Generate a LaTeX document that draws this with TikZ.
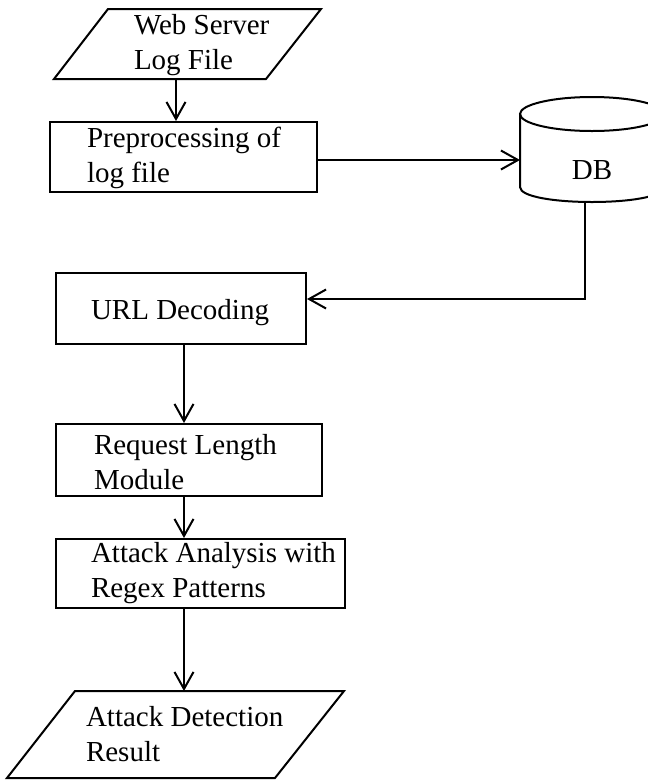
\documentclass[tikz,border=0pt]{standalone}
\usepackage{fontspec}
\setmainfont{Liberation Serif}
\usetikzlibrary{arrows.meta}

\begin{document}
\begin{tikzpicture}[x=1pt, y=-1pt, line width=2pt,
  box/.style={draw, rectangle, inner sep=0pt},
  txt/.style={font=\fontsize{29}{35}\selectfont, align=left, anchor=west, inner sep=0pt},
  arr/.style={-{Straight Barb[length=17pt,width=19pt]}}]

\useasboundingbox (0,0) rectangle (648,780);
\clip (0,0) rectangle (648,780);

\draw (108,9) -- (321,9) -- (266,79) -- (54,79) -- cycle;
\node[txt] (weblog) at (133,45) {Web Server\\Log File};

\node[box, minimum width=267, minimum height=70] (prep) at (183.5,157) {};
\node[txt] (preptext) at (86,158) {Preprocessing of\\log file};

\draw (592,114) ellipse [x radius=72, y radius=17];
\draw (520,114) -- (520,187) .. controls (520,207) and (664,207) .. (664,187) -- (664,114);
\node[font=\fontsize{29}{35}\selectfont, inner sep=0pt] (db) at (592,170) {DB};

\node[box, minimum width=250, minimum height=71] (url) at (181,308.5) {};
\node[txt] (urltext) at (90,313) {URL Decoding};

\node[box, minimum width=266, minimum height=72] (req) at (189,460) {};
\node[txt] (reqtext) at (93,462) {Request Length\\Module};

\node[box, minimum width=289, minimum height=69] (atk) at (200.5,573.5) {};
\node[txt] (atktext) at (90,573) {Attack Analysis with\\Regex Patterns};

\draw (75,691) -- (344,691) -- (275,778) -- (7,778) -- cycle;
\node[txt] (restext) at (85,734) {Attack Detection\\Result};

\coordinate (webbot) at (176,79);
\coordinate (dbin) at (520,160);
\coordinate (dbout) at (585,202);
\coordinate (col) at (184,0);
\coordinate (restop) at (184,691);

\draw[arr] (webbot) -- (prep.north -| webbot);
\draw[arr] (prep.east |- dbin) -- (dbin);
\draw[arr] (dbout) |- ([yshift=9.5pt]url.east);
\draw[arr] (url.south -| col) -- (req.north -| col);
\draw[arr] (req.south -| col) -- (atk.north -| col);
\draw[arr] (atk.south -| col) -- (restop);
\end{tikzpicture}
\end{document}
